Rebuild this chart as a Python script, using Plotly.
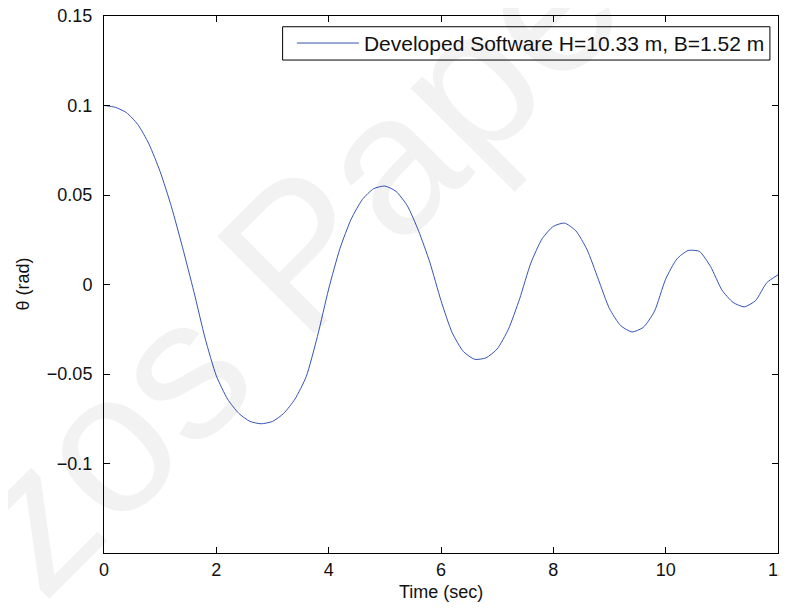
import plotly.graph_objects as go

time_sec = [0.0, 0.2, 0.4, 0.6, 0.8, 1.0, 1.2, 1.4, 1.6, 1.8,
            2.0, 2.2, 2.4, 2.6, 2.8, 3.0, 3.2, 3.4, 3.6, 3.8,
            4.0, 4.2, 4.4, 4.6, 4.8, 5.0, 5.2, 5.4, 5.6, 5.8,
            6.0, 6.2, 6.4, 6.6, 6.8, 7.0, 7.2, 7.4, 7.6, 7.8,
            8.0, 8.2, 8.4, 8.6, 8.8, 9.0, 9.2, 9.4, 9.6, 9.8,
            10.0, 10.2, 10.4, 10.6, 10.8, 11.0, 11.2, 11.4, 11.6, 11.8,
            12.0]
theta_rad = [0.1000, 0.0990, 0.0960, 0.0895, 0.0785, 0.0630, 0.0435, 0.0205, -0.0040, -0.0300,
             -0.0510, -0.0640, -0.0720, -0.0765, -0.0778, -0.0765, -0.0720, -0.0640, -0.0515, -0.0290,
             -0.0025, 0.0200, 0.0365, 0.0475, 0.0535, 0.0550, 0.0520, 0.0440, 0.0300, 0.0125,
             -0.0090, -0.0270, -0.0375, -0.0418, -0.0410, -0.0360, -0.0250, -0.0080, 0.0120, 0.0255,
             0.0325, 0.0343, 0.0300, 0.0195, 0.0030, -0.0135, -0.0230, -0.0265, -0.0240, -0.0150,
             0.0030, 0.0143, 0.0190, 0.0185, 0.0100, -0.0030, -0.0100, -0.0125, -0.0090, 0.0010,
             0.0054]

series_name = "Developed Software H=10.33 m, B=1.52 m"
x_title = "Time (sec)"
y_title = "\u03b8 (rad)"
x_ticks = [0, 2, 4, 6, 8, 10, 12]
y_ticks = [-0.1, -0.05, 0, 0.05, 0.1, 0.15]
y_tick_labels = ["\u22120.1", "\u22120.05", "0", "0.05", "0.1", "0.15"]

FONT = "Liberation Sans, Arial, Helvetica, sans-serif"
TXT = "#111111"

fig = go.Figure()
fig.add_trace(go.Scatter(
    x=time_sec, y=theta_rad, mode="lines", name=series_name,
    line=dict(color="#3553b5", width=1, shape="spline", smoothing=0.6),
))

# faint diagonal watermark
fig.add_annotation(
    text="zos Pape", xref="paper", yref="paper", x=0.275, y=0.545,
    xanchor="center", yanchor="middle", textangle=-45, showarrow=False,
    font=dict(family=FONT, size=200, color="rgba(0,0,0,0.05)"),
)

# axis titles
fig.add_annotation(
    text=x_title, xref="paper", yref="paper", x=0.5, y=0,
    xanchor="center", yanchor="middle", yshift=-39, showarrow=False,
    font=dict(family=FONT, size=18, color=TXT),
)
fig.add_annotation(
    text=y_title, xref="paper", yref="paper", x=0, y=0.5,
    xanchor="center", yanchor="middle", xshift=-82, textangle=-90, showarrow=False,
    font=dict(family=FONT, size=18, color=TXT),
)

# legend frame (MATLAB-style box)
fig.add_shape(
    type="rect", xref="paper", yref="paper", x0=0.265, x1=0.988, y0=0.918, y1=0.98,
    line=dict(color="black", width=1), fillcolor="white", layer="above",
)

axis_common = dict(
    showline=True, linecolor="black", linewidth=1, mirror="ticks",
    ticks="inside", ticklen=6, tickcolor="black", tickwidth=1,
    showgrid=False, zeroline=False, automargin=False, ticklabeloverflow="allow",
    tickfont=dict(family=FONT, size=18, color=TXT),
)

fig.update_xaxes(range=[0, 12], tickvals=x_ticks, **axis_common)
fig.update_yaxes(range=[-0.15, 0.15], tickvals=y_ticks, ticktext=y_tick_labels,
                 ticklabelstandoff=7, **axis_common)

# page body has an 8px default margin, so the figure is sized to fit the 787x610 window
fig.update_layout(
    width=779, height=602,
    margin=dict(l=96, r=9, t=8, b=57),
    paper_bgcolor="white", plot_bgcolor="rgba(0,0,0,0)",
    font=dict(family=FONT, size=18, color=TXT),
    showlegend=True,
    legend=dict(
        x=0.988, y=0.949, xanchor="right", yanchor="middle",
        bgcolor="rgba(0,0,0,0)", borderwidth=0,
        font=dict(family=FONT, size=21, color=TXT),
        itemwidth=62, indentation=7,
    ),
)

fig.write_html("out.html")
